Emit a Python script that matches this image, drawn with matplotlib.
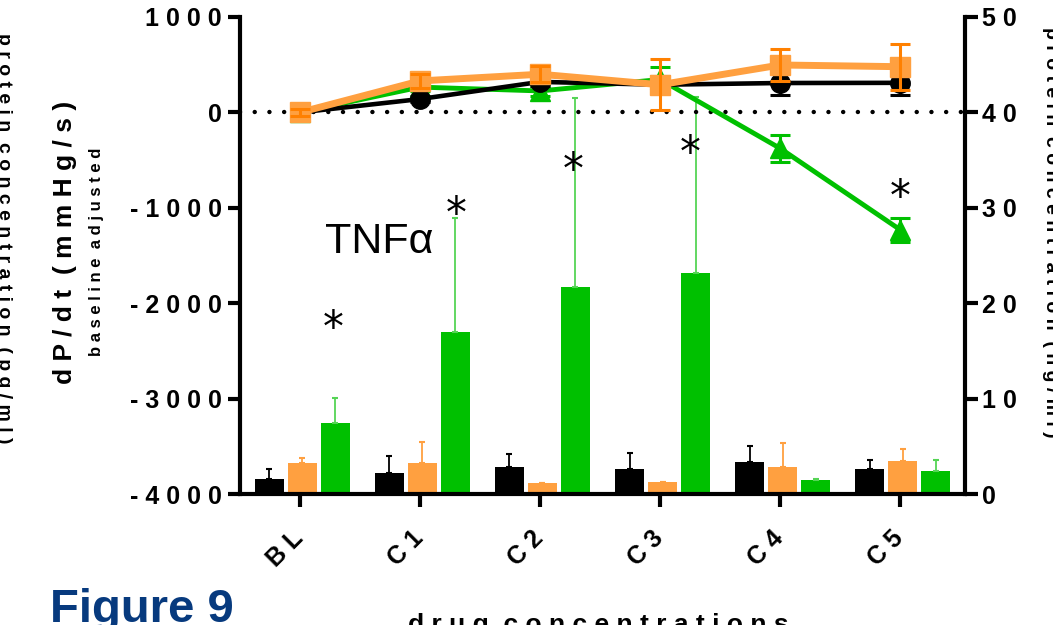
import numpy as np
import matplotlib
matplotlib.use('Agg')
import matplotlib.pyplot as plt
from matplotlib.transforms import ScaledTranslation

plt.rcParams['font.family'] = ['Liberation Sans', 'DejaVu Sans']

# ---------------- data ----------------
categories = ['BL', 'C1', 'C2', 'C3', 'C4', 'C5']

# dP/dt (mmHg/s), baseline adjusted  (left axis, lines)
dpdt_black = [0, 140, 320, 290, 308, 310]
dpdt_black_err = [25, 30, 45, 87, 122, 129]
dpdt_orange = [0, 330, 400, 290, 497, 479]
dpdt_orange_err = [40, 75, 85, 270, 164, 240]
dpdt_green = [0, 265, 225, 345, -377, -1230]
dpdt_green_err = [20, 40, 50, 126, 145, 125]

# protein concentration (right axis, bars)
prot_black = [1.6, 2.2, 2.8, 2.6, 3.4, 2.6]
prot_black_err = [1.0, 1.8, 1.4, 1.7, 1.6, 1.0]
prot_orange = [3.3, 3.2, 1.15, 1.25, 2.8, 3.5]
prot_orange_err = [0.5, 2.2, 0.0, 0.0, 2.5, 1.2]
prot_green = [7.4, 17.0, 21.7, 23.2, 1.5, 2.4]
prot_green_err = [2.7, 11.9, 19.8, 18.4, 0.1, 1.2]

left_ticks = [-4000, -3000, -2000, -1000, 0, 1000]
right_ticks = [0, 10, 20, 30, 40, 50]

# significance marks (category position, right-axis height)
star_x = [0.275, 1.3, 2.275, 3.25, 5.0]
star_y = [18.4, 30.4, 35.0, 36.8, 32.2]

BLACK = '#000000'
ORANGE = '#ffa040'
ORANGE_DARK = '#ff8000'
GREEN = '#00c000'
GREEN_LIGHT = '#55d455'


def spaced(s):
    return ' '.join(s).replace('   ', '  ')


W, H = 1053, 625
fig = plt.figure(figsize=(W / 100, H / 100), dpi=100)
L, R, T, B = 240, 965, 17, 494
ax = fig.add_axes([L / W, 1 - B / H, (R - L) / W, (B - T) / H])
ax2 = ax.twinx()
ax.set_zorder(ax2.get_zorder() + 1)
ax.patch.set_visible(False)

x = np.arange(len(categories))
ax.set_xlim(-0.5, 5.54)
ax.set_ylim(-4000, 1000)
ax2.set_ylim(0, 50)

# ---------------- bars (right axis) ----------------
width = 0.245
offsets = [-0.255, 0.02, 0.295]
bar_sets = [(prot_black, prot_black_err, BLACK, BLACK),
            (prot_orange, prot_orange_err, ORANGE, ORANGE),
            (prot_green, prot_green_err, GREEN, GREEN_LIGHT)]
for off, (vals, err, col, ecol) in zip(offsets, bar_sets):
    ax2.bar(x + off, vals, width, color=col, linewidth=0,
            yerr=[np.zeros(len(err)), err],
            error_kw=dict(ecolor=ecol, elinewidth=1.3, capsize=2, capthick=1.5))

# ---------------- lines (left axis) ----------------
ax.axhline(0, color='black', lw=3.2, linestyle=(0, (0.01, 3.3)),
           dash_capstyle='round', zorder=1)

ax.errorbar(x, dpdt_green, yerr=dpdt_green_err, color=GREEN, lw=3.5,
            marker='^', ms=14, ecolor=GREEN, elinewidth=2.2, capsize=7,
            capthick=2.2, barsabove=True, zorder=3)
ax.errorbar(x, dpdt_black, yerr=dpdt_black_err, color=BLACK, lw=3.3,
            marker='o', ms=14, ecolor=BLACK, elinewidth=2.2, capsize=7,
            capthick=2.2, barsabove=True, zorder=4)
ax.errorbar(x, dpdt_orange, yerr=dpdt_orange_err, color=ORANGE, lw=5,
            marker='s', ms=14, ecolor=ORANGE_DARK, elinewidth=2.2, capsize=7,
            capthick=2.2, barsabove=True, zorder=5)

# ---------------- axes styling ----------------
for s in ['top', 'right']:
    ax.spines[s].set_visible(False)
for s in ['top', 'left', 'bottom']:
    ax2.spines[s].set_visible(False)
for s in ['left', 'bottom']:
    ax.spines[s].set_linewidth(3)
ax2.spines['right'].set_linewidth(3)

tick_font = dict(family=['Liberation Sans', 'DejaVu Sans'], weight='bold', size=18)
ax.set_yticks(left_ticks)
ax.set_yticklabels([spaced(str(t)) for t in left_ticks], fontdict=tick_font)
ax2.set_yticks(right_ticks)
ax2.set_yticklabels([spaced(str(t)) for t in right_ticks], fontdict=tick_font)
ax.set_xticks(x)
ax.set_xticklabels([spaced(c) for c in categories], fontdict=tick_font,
                   rotation=45, ha='right')
ax.tick_params(axis='y', length=9, width=3, pad=4)
ax.tick_params(axis='x', length=9, width=3, pad=14)
ax2.tick_params(axis='y', length=9, width=3, pad=3)
shift = ScaledTranslation(8 / 100, 0, fig.dpi_scale_trans)
for lab in ax.get_xticklabels():
    lab.set_transform(lab.get_transform() + shift)

# ---------------- annotations ----------------
fs_star = 30
star_off = ScaledTranslation(0, -0.55 * fs_star / 72, fig.dpi_scale_trans)
for sx, sy in zip(star_x, star_y):
    ax2.text(sx, sy, '*', fontsize=fs_star, ha='center', va='baseline',
             family='DejaVu Sans', transform=ax2.transData + star_off, zorder=10)

ax2.text(0.66, 25.3, 'TNFα', fontsize=31, ha='center', va='baseline')

fig.text(65 / W, 1 - 242 / H, spaced('dP/dt (mmHg/s)'), rotation=90,
         ha='center', va='center', fontsize=19, fontweight='bold')
fig.text(97 / W, 1 - 252 / H, spaced('baseline adjusted'), rotation=90,
         ha='center', va='center', fontsize=12, fontweight='bold')
fig.text(598 / W, 1 - 632 / H, spaced('drug concentrations'),
         ha='center', va='baseline', fontsize=19, fontweight='bold')
fig.text(-1 / W, 1 - 238 / H, spaced('protein concentration (pg/ml)'),
         rotation=270, rotation_mode='anchor', ha='center', va='baseline',
         fontsize=14, fontweight='bold')
fig.text(1046 / W, 1 - 232 / H, spaced('protein concentration (ng/ml)'),
         rotation=270, rotation_mode='anchor', ha='center', va='baseline',
         fontsize=14, fontweight='bold')
fig.text(50 / W, 1 - 622 / H, 'Figure 9', fontsize=34, fontweight='bold',
         color='#073a7e', ha='left', va='baseline')

fig.savefig('out.png', dpi=100)
